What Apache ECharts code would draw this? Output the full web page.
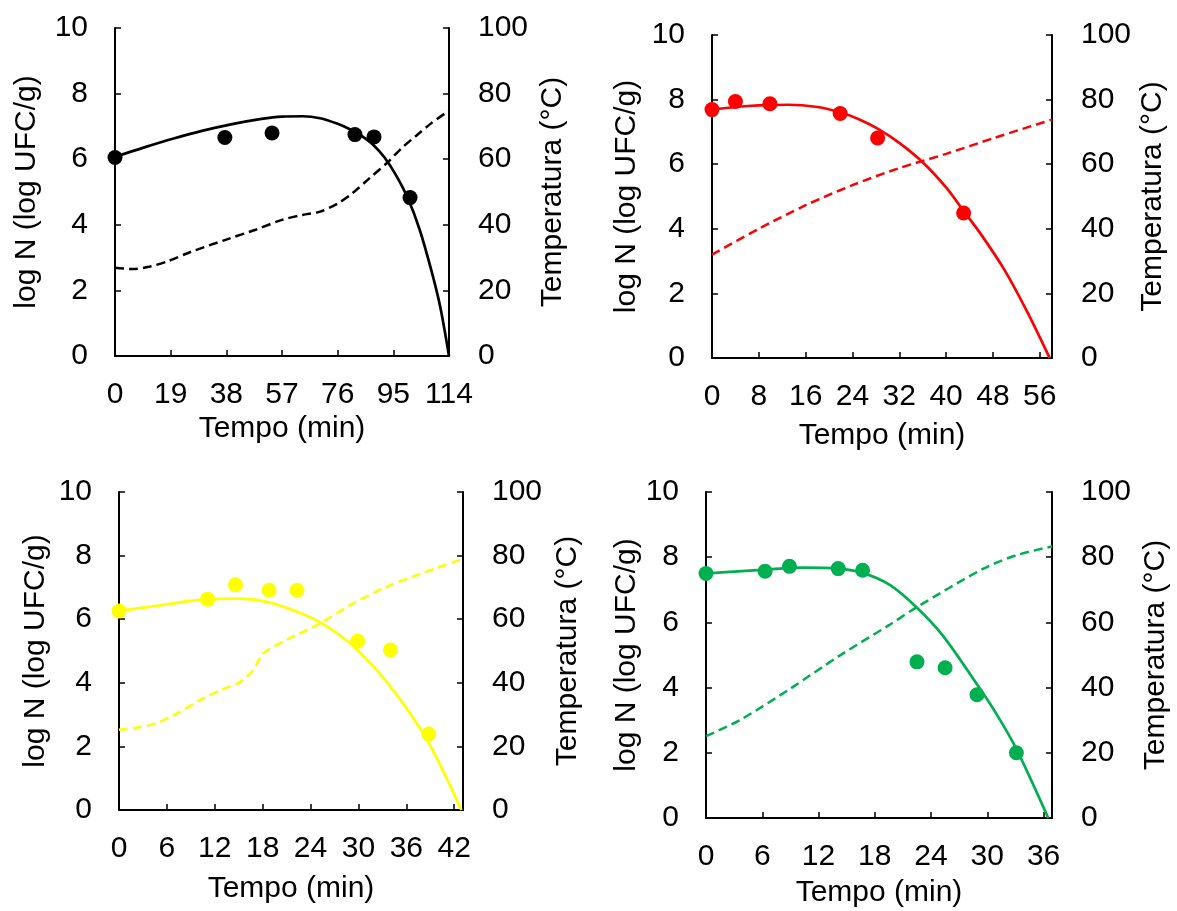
<!DOCTYPE html>
<html>
<head>
<meta charset="utf-8">
<script src="https://cdn.jsdelivr.net/npm/echarts@6/dist/echarts.min.js"></script>
<style>
html,body{margin:0;padding:0;background:#fff;}
#chart{width:1177px;height:911px;}
</style>
</head>
<body>
<div id="chart"></div>
<script>
// ---------- Panel 1 (black) ----------
var p1ObsT = [0, 37.5, 53.6, 81.9, 88.4, 100.7];
var p1ObsN = [6.05, 6.66, 6.80, 6.75, 6.68, 4.83];
var p1FitT = [0, 10, 20, 30, 40, 50, 57, 64, 70, 76, 80, 84, 88, 92, 96, 100, 104, 108, 111, 114];
var p1FitN = [6.07, 6.36, 6.63, 6.87, 7.07, 7.23, 7.30, 7.31, 7.25, 7.08, 6.92, 6.72, 6.45, 6.05, 5.50, 4.80, 3.85, 2.60, 1.50, 0.0];
var p1TempT = [0, 6, 12, 18, 26, 38, 48, 57, 64, 70, 76, 81, 87, 93, 98, 103, 108, 114];
var p1TempV = [26.9, 26.5, 27.3, 28.9, 31.8, 35.5, 38.5, 41.5, 43.0, 44.0, 46.5, 49.6, 54.3, 59.0, 63.5, 67.3, 71.0, 74.8];

// ---------- Panel 2 (red) ----------
var p2ObsT = [0, 4, 9.9, 21.9, 28.3, 43];
var p2ObsN = [7.69, 7.94, 7.87, 7.57, 6.81, 4.49];
var p2FitT = [0, 4, 8, 13, 18, 22, 25, 28.3, 32, 36, 40, 43, 46, 50, 54, 57.7];
var p2FitN = [7.69, 7.77, 7.82, 7.84, 7.77, 7.60, 7.40, 7.10, 6.66, 6.06, 5.28, 4.55, 3.82, 2.72, 1.38, 0.0];
var p2TempT = [0, 8, 16, 24, 32, 40, 48, 58.1];
var p2TempV = [32.0, 40.0, 47.3, 53.5, 58.8, 63.2, 68.0, 73.8];

// ---------- Panel 3 (yellow) ----------
var p3ObsT = [0, 11.1, 14.6, 18.8, 22.3, 29.9, 34, 38.8];
var p3ObsN = [6.26, 6.63, 7.08, 6.91, 6.91, 5.31, 5.03, 2.39];
var p3FitT = [0, 5, 11, 15, 17.5, 21, 25.2, 29.4, 34, 38.6, 42.9];
var p3FitN = [6.26, 6.43, 6.63, 6.65, 6.60, 6.36, 5.90, 5.14, 3.88, 2.20, 0.0];
var p3TempT = [0, 3.9, 7, 10.2, 13, 15.2, 16.8, 18.1, 21, 25.2, 29, 33.1, 38, 43.1];
var p3TempV = [25.2, 26.7, 30.0, 34.6, 38.0, 40.3, 44.0, 49.3, 53.5, 58.7, 64.5, 69.7, 74.5, 79.0];

// ---------- Panel 4 (green) ----------
var p4ObsT = [0, 6.3, 8.9, 14.1, 16.7, 22.5, 25.5, 28.9, 33.1];
var p4ObsN = [7.50, 7.57, 7.72, 7.65, 7.60, 4.79, 4.61, 3.78, 2.00];
var p4FitT = [0, 3, 6.3, 10.4, 14.1, 16.7, 19.6, 22.5, 25.3, 28.9, 31, 33.1, 36.5];
var p4FitN = [7.50, 7.56, 7.62, 7.68, 7.65, 7.52, 7.15, 6.45, 5.58, 4.10, 3.18, 2.12, 0.0];
var p4TempT = [0, 3.6, 9, 14.3, 19.6, 22.5, 29.6, 33.1, 36.9];
var p4TempV = [25.1, 30.0, 39.7, 49.9, 59.3, 64.7, 76.5, 80.6, 83.3];

// tick settings
var xMax = [114, 58.1, 43.1, 36.9];
var xInterval = [19, 8, 6, 6];
var yLeftTicks = [0, 2, 4, 6, 8, 10];
var yRightTicks = [0, 20, 40, 60, 80, 100];

var FONT = '"Liberation Sans", Arial, sans-serif';
var FS = 30;

function zip(a, b) { return a.map(function (v, i) { return [v, b[i]]; }); }

var panels = [
  {obsT:p1ObsT, obsN:p1ObsN, fitT:p1FitT, fitN:p1FitN, tT:p1TempT, tV:p1TempV, color:'#000000',
   grid:{left:115, top:28, width:334, height:328}, xGap:58, lGap:73, rGap:89},
  {obsT:p2ObsT, obsN:p2ObsN, fitT:p2FitT, fitN:p2FitN, tT:p2TempT, tV:p2TempV, color:'#ff0000',
   grid:{left:712, top:35, width:340, height:323}, xGap:63, lGap:70, rGap:86},
  {obsT:p3ObsT, obsN:p3ObsN, fitT:p3FitT, fitN:p3FitN, tT:p3TempT, tV:p3TempV, color:'#ffff00',
   grid:{left:119, top:492, width:344, height:318}, xGap:64, lGap:68, rGap:90},
  {obsT:p4ObsT, obsN:p4ObsN, fitT:p4FitT, fitN:p4FitN, tT:p4TempT, tV:p4TempV, color:'#00b050',
   grid:{left:706, top:492, width:346, height:326}, xGap:60, lGap:60, rGap:89}
];

var axisLineStyle = {show:true, onZero:false, lineStyle:{color:'#000', width:2}};
var tickStyle = {show:true, inside:true, length:6, lineStyle:{color:'#000', width:1.5}};
var labelBase = {color:'#000', fontSize:FS, fontFamily:FONT};
var nameBase = {color:'#000', fontSize:FS, fontFamily:FONT};

var option = {animation:false, backgroundColor:'#fff', grid:[], xAxis:[], yAxis:[], series:[]};

panels.forEach(function (p, i) {
  option.grid.push(Object.assign({}, p.grid));
  var iv = xInterval[i];
  option.xAxis.push({
    type:'value', gridIndex:i, min:0, max:xMax[i], interval:iv,
    axisLine:axisLineStyle, axisTick:tickStyle, splitLine:{show:false},
    axisLabel:Object.assign({margin:24, formatter:function (v) {
      var r = v / iv; return Math.abs(r - Math.round(r)) < 1e-6 ? String(Math.round(v)) : '';
    }}, labelBase),
    name:'Tempo (min)', nameLocation:'middle', nameGap:p.xGap, nameTextStyle:nameBase
  });
  option.yAxis.push({
    type:'value', gridIndex:i, position:'left', min:yLeftTicks[0], max:yLeftTicks[yLeftTicks.length-1],
    interval:yLeftTicks[1]-yLeftTicks[0],
    axisLine:axisLineStyle, axisTick:tickStyle, splitLine:{show:false},
    axisLabel:Object.assign({margin:27}, labelBase),
    name:'log N (log UFC/g)', nameLocation:'middle', nameGap:p.lGap, nameTextStyle:nameBase
  });
  option.yAxis.push({
    type:'value', gridIndex:i, position:'right', min:yRightTicks[0], max:yRightTicks[yRightTicks.length-1],
    interval:yRightTicks[1]-yRightTicks[0],
    axisLine:axisLineStyle, axisTick:tickStyle, splitLine:{show:false},
    axisLabel:Object.assign({margin:29}, labelBase),
    name:'Temperatura (°C)', nameLocation:'middle', nameGap:p.rGap, nameTextStyle:nameBase
  });
  option.series.push({
    type:'line', xAxisIndex:i, yAxisIndex:2*i+1, data:zip(p.tT, p.tV),
    smooth:0.3, showSymbol:false, clip:true,
    lineStyle:{color:p.color, width:2.5, type:[9,5]}, z:2
  });
  option.series.push({
    type:'line', xAxisIndex:i, yAxisIndex:2*i, data:zip(p.fitT, p.fitN),
    smooth:0.3, showSymbol:false, clip:true,
    lineStyle:{color:p.color, width:2.7}, z:3
  });
  option.series.push({
    type:'scatter', xAxisIndex:i, yAxisIndex:2*i, data:zip(p.obsT, p.obsN),
    symbol:'circle', symbolSize:15, itemStyle:{color:p.color, opacity:1}, z:4
  });
});

var chart = echarts.init(document.getElementById('chart'), null, {renderer:'canvas'});
chart.setOption(option);
</script>
</body>
</html>
